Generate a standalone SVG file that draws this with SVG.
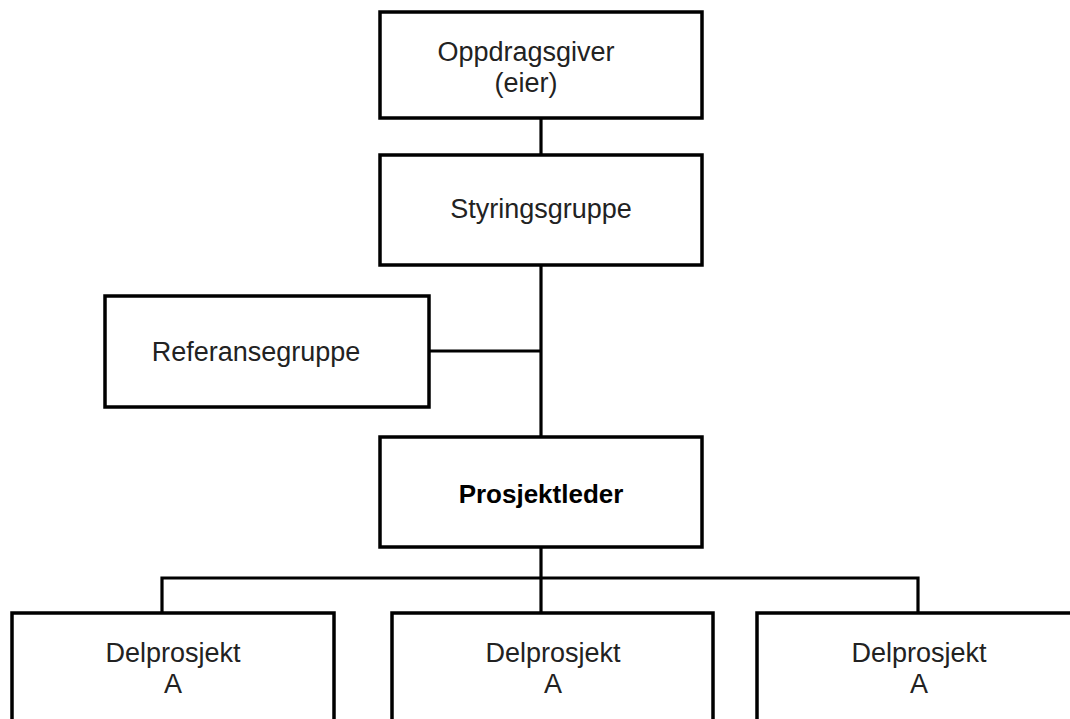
<svg xmlns="http://www.w3.org/2000/svg" width="1070" height="719" viewBox="0 0 1070 719">
  <style>
    .box { fill: #ffffff; stroke: #000000; stroke-width: 3.5; }
    .link { fill: none; stroke: #000000; stroke-width: 3.2; }
    .label { font-family: "Liberation Sans", Arial, sans-serif; font-size: 27px; fill: #222222; text-anchor: middle; }
    .strong { font-family: "Liberation Sans", Arial, sans-serif; font-size: 26px; font-weight: bold; fill: #000000; text-anchor: middle; }
  </style>
  <rect width="1070" height="719" fill="#ffffff"/>

  <!-- organisational links -->
  <g id="connectors">
    <line class="link" x1="541" y1="118" x2="541" y2="155"/>
    <line class="link" x1="541" y1="265" x2="541" y2="437"/>
    <line class="link" x1="429" y1="351" x2="541" y2="351"/>
    <line class="link" x1="541" y1="547" x2="541" y2="613"/>
    <polyline class="link" points="162,613 162,578 918,578 918,613"/>
  </g>

  <g id="oppdragsgiver">
    <rect class="box" x="380" y="12" width="322" height="106"/>
    <text class="label" x="526" y="61">Oppdragsgiver</text>
    <text class="label" x="526" y="92">(eier)</text>
  </g>

  <g id="styringsgruppe">
    <rect class="box" x="380" y="155" width="322" height="110"/>
    <text class="label" x="541" y="218">Styringsgruppe</text>
  </g>

  <g id="referansegruppe">
    <rect class="box" x="105" y="296" width="324" height="111"/>
    <text class="label" x="256" y="361">Referansegruppe</text>
  </g>

  <g id="prosjektleder">
    <rect class="box" x="380" y="437" width="322" height="110"/>
    <text class="strong" x="541" y="503">Prosjektleder</text>
  </g>

  <g id="delprosjekt-1">
    <rect class="box" x="12" y="613" width="322" height="140"/>
    <text class="label" x="173" y="662">Delprosjekt</text>
    <text class="label" x="173" y="693">A</text>
  </g>

  <g id="delprosjekt-2">
    <rect class="box" x="392" y="613" width="321" height="140"/>
    <text class="label" x="553" y="662">Delprosjekt</text>
    <text class="label" x="553" y="693">A</text>
  </g>

  <g id="delprosjekt-3">
    <rect class="box" x="757" y="613" width="322" height="140"/>
    <text class="label" x="919" y="662">Delprosjekt</text>
    <text class="label" x="919" y="693">A</text>
  </g>
</svg>
